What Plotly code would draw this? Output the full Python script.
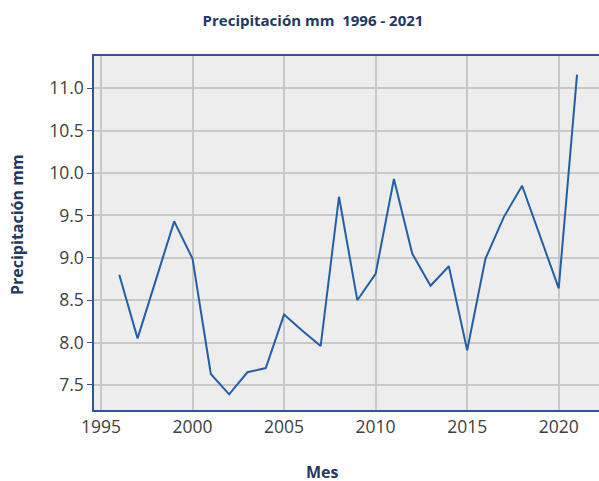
import plotly.graph_objects as go

years = list(range(1996, 2022))
precip_mm = [8.80, 8.05, 8.74, 9.43, 8.99, 7.63, 7.39, 7.65, 7.70, 8.33,
             8.14, 7.96, 9.72, 8.50, 8.81, 9.93, 9.05, 8.67, 8.90, 7.91,
             8.99, 9.48, 9.85, 9.24, 8.64, 11.16]

navy = "#1F3864"
axis_blue = "#2F5597"
line_blue = "#2160A6"

fig = go.Figure(
    go.Scatter(
        x=years,
        y=precip_mm,
        mode="lines",
        line={"color": line_blue, "width": 2},
        showlegend=False,
    )
)

fig.update_layout(
    width=599,
    height=481,
    paper_bgcolor="white",
    plot_bgcolor="#EDEDED",
    margin={"l": 94, "r": 0, "t": 56, "b": 71, "autoexpand": False},
    title={
        "text": "<b>Precipitación mm  1996 - 2021</b>",
        "x": 313 / 599,
        "xanchor": "center",
        "xref": "container",
        "y": 1 - 21 / 481,
        "yanchor": "middle",
        "font": {"family": "Open Sans", "size": 15, "color": navy},
    },
    font={"family": "Open Sans", "color": "#404040"},
    annotations=[
        dict(
            text="<b>Mes</b>", xref="paper", yref="paper",
            x=(322 - 94) / 505, y=-(472 - 410) / 354,
            xanchor="center", yanchor="middle", showarrow=False,
            font={"family": "Open Sans", "size": 16, "color": navy},
        ),
        dict(
            text="<b>Precipitación mm</b>", xref="paper", yref="paper",
            x=-(94 - 17) / 505, y=(410 - 225) / 354,
            xanchor="center", yanchor="middle", showarrow=False, textangle=-90,
            font={"family": "Open Sans", "size": 16, "color": navy},
        ),
    ],
)

fig.update_xaxes(
    range=[1994.62, 2022.2],
    tickvals=[1995, 2000, 2005, 2010, 2015, 2020],
    tickfont={"size": 17.5, "color": "#404040"},
    automargin=False,
    showgrid=True,
    gridcolor="#C8C8C8",
    gridwidth=1.5,
    zeroline=False,
    showline=True,
    linecolor=axis_blue,
    linewidth=1.5,
    mirror=True,
    ticks="",
)

fig.update_yaxes(
    range=[7.205, 11.38],
    tickvals=[7.5, 8.0, 8.5, 9.0, 9.5, 10.0, 10.5, 11.0],
    ticktext=["7.5", "8.0", "8.5", "9.0", "9.5", "10.0", "10.5", "11.0"],
    tickfont={"size": 17.5, "color": "#404040"},
    automargin=False,
    showgrid=True,
    gridcolor="#C8C8C8",
    gridwidth=1.5,
    zeroline=False,
    showline=True,
    linecolor=axis_blue,
    linewidth=1.5,
    mirror=False,
    ticks="outside",
    ticklen=5,
    tickcolor=axis_blue,
)

fig.write_html(
    "out.html",
    config={"displayModeBar": False},
    post_script="document.body.style.margin='0';document.body.style.overflow='hidden';",
)
